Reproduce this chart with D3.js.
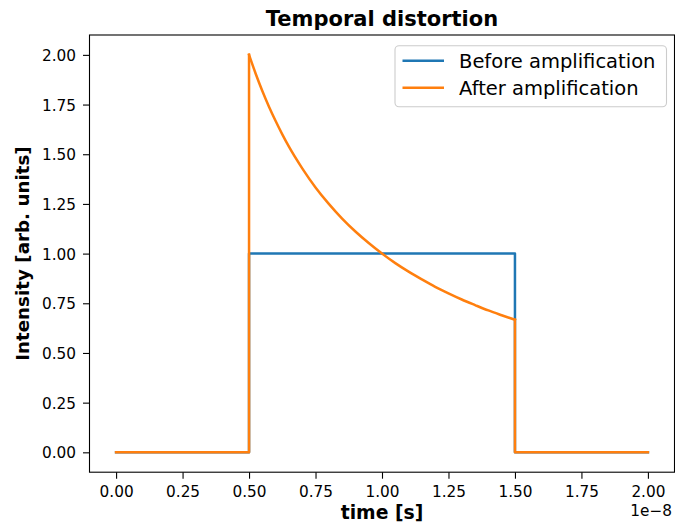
<!DOCTYPE html>
<html>
<head>
<meta charset="utf-8">
<script src="https://cdn.jsdelivr.net/npm/d3@7"></script>
<style>
  html, body { margin: 0; padding: 0; background: #fff; }
  svg { display: block; }
  text { font-family: "DejaVu Sans", sans-serif; fill: #000; }
</style>
</head>
<body>
<script>
// ---- data (time in units of 1e-8 s) ----
const timeOffsetLabel = "1e\u22128";
const beforeTime  = [0, 0.5, 0.5, 1.5, 1.5, 2.0];
const beforeValue = [0, 0,   1.0, 1.0, 0,   0];
// pulse edges of the amplified signal
const afterPreTime   = [0, 0.5, 0.5];
const afterPreValue  = [0, 0,   2.0];
const afterDecayTime  = [0.5, 0.525, 0.55, 0.575, 0.6, 0.625, 0.65, 0.7, 0.75, 0.8, 0.85, 0.9, 0.95, 1.0, 1.05, 1.1, 1.15, 1.2, 1.25, 1.3, 1.35, 1.4, 1.45, 1.5];
const afterDecayValue = [2.0, 1.905, 1.818, 1.739, 1.667, 1.600, 1.538, 1.429, 1.333, 1.250, 1.176, 1.111, 1.053, 1.000, 0.952, 0.909, 0.870, 0.833, 0.800, 0.769, 0.741, 0.714, 0.690, 0.667];
const afterPostTime  = [1.5, 1.5, 2.0];
const afterPostValue = [0.667, 0, 0];
const seriesNames = ["Before amplification", "After amplification"];
const seriesColors = ["#1f77b4", "#ff7f0e"];
const xTicks = [0, 0.25, 0.5, 0.75, 1.0, 1.25, 1.5, 1.75, 2.0];
const yTicks = [0, 0.25, 0.5, 0.75, 1.0, 1.25, 1.5, 1.75, 2.0];
const titleText = "Temporal distortion";
const xLabelText = "time [s]";
const yLabelText = "Intensity [arb. units]";

// ---- layout ----
const W = 675, H = 529;
const L = 89.5, R = 674.5, T = 35, B = 472.2;

const svg = d3.select("body").append("svg").attr("width", W).attr("height", H);

const x = d3.scaleLinear().domain([-0.1, 2.1]).range([L, R]);
const y = d3.scaleLinear().domain([-0.1, 2.1]).range([B, T]);

const fmt = d3.format(".2f");

// x axis
const gx = svg.append("g").attr("transform", `translate(0,${B})`)
  .call(d3.axisBottom(x).tickValues(xTicks).tickFormat(fmt).tickSize(6.5).tickSizeOuter(0));
gx.select(".domain").remove();
gx.selectAll(".tick line").attr("stroke", "#000").attr("stroke-width", 1.1);
gx.selectAll(".tick text").attr("y", 24.8).attr("dy", null)
  .attr("font-size", 15.3).attr("font-family", "DejaVu Sans").attr("fill", "#000");

// y axis
const gy = svg.append("g").attr("transform", `translate(${L},0)`)
  .call(d3.axisLeft(y).tickValues(yTicks).tickFormat(fmt).tickSize(6.5).tickSizeOuter(0));
gy.select(".domain").remove();
gy.selectAll(".tick line").attr("stroke", "#000").attr("stroke-width", 1.1);
gy.selectAll(".tick text").attr("x", -13.5).attr("dy", "0.36em")
  .attr("font-size", 15.3).attr("font-family", "DejaVu Sans").attr("fill", "#000");

// lines
const zip = (a, b) => a.map((t, i) => [t, b[i]]);
const line = d3.line().x(d => x(d[0])).y(d => y(d[1]));
const smooth = d3.line().x(d => x(d[0])).y(d => y(d[1])).curve(d3.curveMonotoneX);

const plot = svg.append("g");
function drawPath(data, gen, color) {
  plot.append("path").datum(data).attr("d", gen)
    .attr("fill", "none").attr("stroke", color).attr("stroke-width", 2.5)
    .attr("stroke-linejoin", "round").attr("stroke-linecap", "square");
}
drawPath(zip(beforeTime, beforeValue), line, seriesColors[0]);
drawPath(zip(afterPreTime, afterPreValue), line, seriesColors[1]);
drawPath(zip(afterDecayTime, afterDecayValue), smooth, seriesColors[1]);
drawPath(zip(afterPostTime, afterPostValue), line, seriesColors[1]);

// frame
svg.append("rect").attr("x", L).attr("y", T).attr("width", R - L).attr("height", B - T)
  .attr("fill", "none").attr("stroke", "#000").attr("stroke-width", 1.1);

// title & labels
svg.append("text").attr("x", (L + R) / 2).attr("y", 25.5).attr("text-anchor", "middle")
  .attr("font-size", 21).attr("font-weight", "bold").text(titleText);
svg.append("text").attr("x", (L + R) / 2).attr("y", 519).attr("text-anchor", "middle")
  .attr("font-size", 18.8).attr("font-weight", "bold").text(xLabelText);
svg.append("text").attr("transform", `translate(28.5,${(T + B) / 2}) rotate(-90)`)
  .attr("text-anchor", "middle").attr("font-size", 18.3).attr("font-weight", "bold").text(yLabelText);
svg.append("text").attr("x", 672).attr("y", 515.5).attr("text-anchor", "end")
  .attr("font-size", 15.3).text(timeOffsetLabel);

// legend
const lg = svg.append("g");
lg.append("rect").attr("x", 395).attr("y", 45.7).attr("width", 271.5).attr("height", 61)
  .attr("rx", 4).attr("ry", 4)
  .attr("fill", "#fff").attr("fill-opacity", 0.8).attr("stroke", "#cccccc").attr("stroke-width", 1.1);
const rowsY = [60.7, 87.7];
seriesNames.forEach((name, i) => {
  lg.append("line").attr("x1", 402.5).attr("x2", 444).attr("y1", rowsY[i]).attr("y2", rowsY[i])
    .attr("stroke", seriesColors[i]).attr("stroke-width", 2.5).attr("stroke-linecap", "butt");
  lg.append("text").attr("x", 459).attr("y", rowsY[i] + 6.8).attr("font-size", 19.5).text(name);
});
</script>
</body>
</html>
